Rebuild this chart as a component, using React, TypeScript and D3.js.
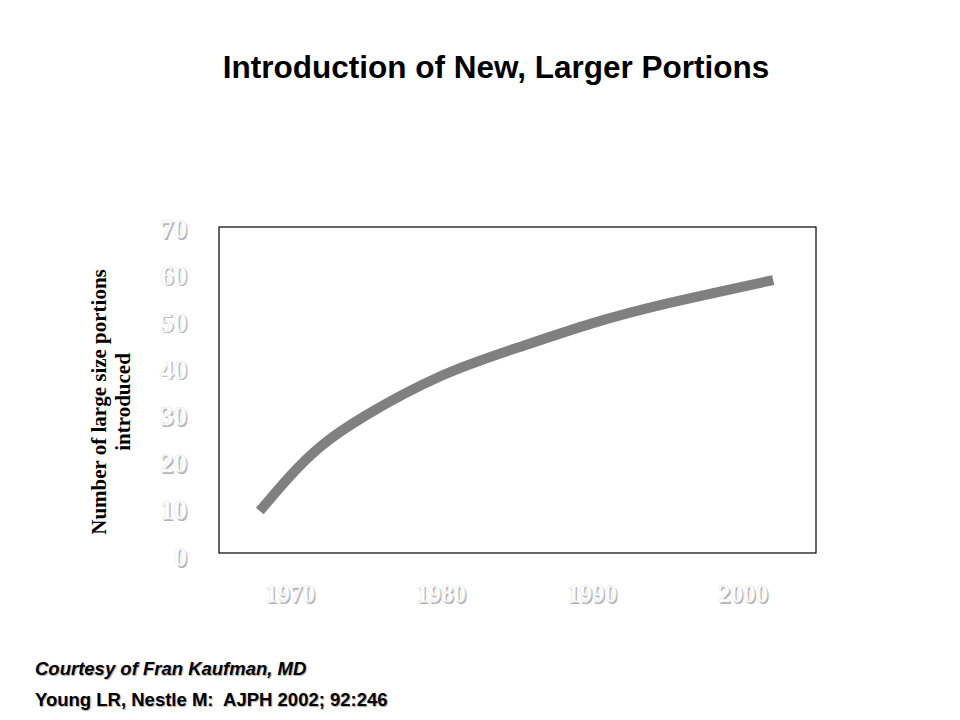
import React from "react";
import * as d3 from "d3";

const years = [1968, 1970, 1972, 1975, 1980, 1985, 1990, 1995, 2002];
const portions = [9, 16.5, 22.8, 29.5, 38, 44, 49.3, 53.6, 58.6];
const yTicks = [0, 10, 20, 30, 40, 50, 60, 70];
const xTicks = [1970, 1980, 1990, 2000];

const W = 960;
const H = 720;
const box = { left: 219, top: 227, right: 816, bottom: 553 };

const App = () => {
  const x = d3.scaleLinear().domain([1970, 2000]).range([290, 743]);
  const y = d3.scaleLinear().domain([0, 70]).range([box.bottom, box.top]);

  const line = d3
    .line<number>()
    .x((_, i) => x(years[i]))
    .y((d) => y(d))
    .curve(d3.curveNatural);

  const serif = "'Liberation Serif', 'Times New Roman', serif";
  const sans = "'Liberation Sans', Arial, sans-serif";

  // embossed white label: gray shadow then white text
  const emboss = (key: string, tx: number, ty: number, label: string, anchor: string, size: number) => (
    <g key={key} fontFamily={serif} fontWeight="bold" fontSize={size} textAnchor={anchor}>
      <text x={tx + 1.5} y={ty + 1.5} fill="#b4b4b4">{label}</text>
      <text x={tx} y={ty} fill="#fff" stroke="#e8e8e8" strokeWidth={0.6}>{label}</text>
    </g>
  );

  return (
    <svg
      width={W}
      height={H}
      style={{ position: "absolute", left: 0, top: 0, background: "#fff" }}
    >
      <text
        x={496}
        y={78}
        textAnchor="middle"
        fontFamily={sans}
        fontWeight="bold"
        fontSize={31.5}
        fill="#000"
      >
        Introduction of New, Larger Portions
      </text>

      <rect
        x={box.left}
        y={box.top}
        width={box.right - box.left}
        height={box.bottom - box.top}
        fill="none"
        stroke="#000"
        strokeWidth={1.2}
      />

      {yTicks.map((t) => emboss("y" + t, 187, y(t) + 11 + (70 - t) / 35, String(t), "end", 27))}
      {xTicks.map((t) => emboss("x" + t, x(t), 602, String(t), "middle", 25))}

      <g
        transform="translate(110,402) rotate(-90)"
        fontFamily={serif}
        fontWeight="bold"
        fontSize={21}
        textAnchor="middle"
        fill="#000"
      >
        <text x={0} y={-4.5}>Number of large size portions</text>
        <text x={0} y={20}>introduced</text>
      </g>

      <path
        d={line(portions) || ""}
        fill="none"
        stroke="#808080"
        strokeWidth={10}
      />

      <g fontFamily={sans} fontWeight="bold" fill="#000">
        <text x={35} y={675} fontSize={18.5} fontStyle="italic"
          style={{ textShadow: "1px 1px 1px #aaa" }}>
          Courtesy of Fran Kaufman, MD
        </text>
        <text x={35} y={706} fontSize={18.5} xmlSpace="preserve"
          style={{ textShadow: "1px 1px 1px #aaa", whiteSpace: "pre" }}>
          Young LR, Nestle M:  AJPH 2002; 92:246
        </text>
      </g>
    </svg>
  );
};

export default App;
